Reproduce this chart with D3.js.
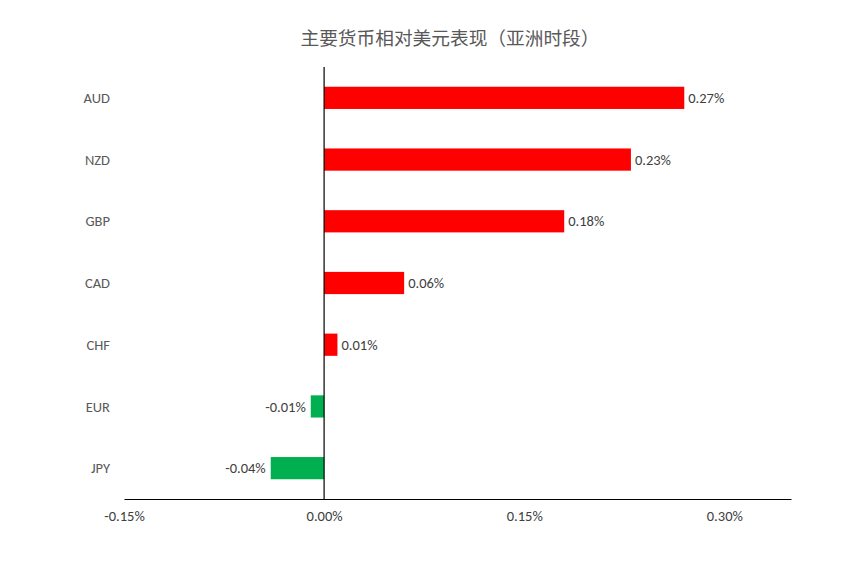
<!DOCTYPE html>
<html>
<head>
<meta charset="utf-8">
<script src="https://d3js.org/d3.v7.min.js"></script>
<style>
    body { margin: 0; background: #fff; }
    text { font-family: Calibri, Carlito, "Liberation Sans", "Noto Sans CJK SC", sans-serif; }
</style>
</head>
<body>
<svg id="chart" width="860" height="580"></svg>
<script>
    // currency performance vs USD, Asian session
    var currencies = ["AUD", "NZD", "GBP", "CAD", "CHF", "EUR", "JPY"];
    var changes = [0.27, 0.23, 0.18, 0.06, 0.01, -0.01, -0.04];
    var tickValues = [-0.15, 0, 0.15, 0.30];
    var titleText = "主要货币相对美元表现（亚洲时段）";

    var svg = d3.select("#chart");
    var plotLeft = 124, plotRight = 791, plotTop = 67, plotBottom = 499;

    var x = d3.scaleLinear().domain([-0.15, 0.35]).range([plotLeft, plotRight]);
    var y = d3.scaleBand().domain(currencies).range([plotTop, plotBottom]).paddingInner(0.64).paddingOuter(0.32);

    svg.append("text")
        .attr("x", 450).attr("y", 45)
        .attr("text-anchor", "middle")
        .style("font-family", "'Noto Sans CJK SC', sans-serif")
        .style("font-size", "18.7px")
        .style("fill", "#595959")
        .text(titleText);

    // bars
    svg.append("g").selectAll("rect").data(changes).join("rect")
        .attr("x", d => x(Math.min(0, d)))
        .attr("y", (d, i) => y(currencies[i]))
        .attr("width", d => Math.abs(x(d) - x(0)))
        .attr("height", y.bandwidth())
        .attr("fill", d => d >= 0 ? "#ff0000" : "#00b050");

    // value labels
    svg.append("g").selectAll("text").data(changes).join("text")
        .attr("x", d => d >= 0 ? x(d) + 4 : x(d) - 5)
        .attr("y", (d, i) => y(currencies[i]) + y.bandwidth() / 2)
        .attr("dy", "0.35em")
        .attr("text-anchor", d => d >= 0 ? "start" : "end")
        .style("font-size", "14.5px")
        .style("fill", "#404040")
        .text(d => d.toFixed(2) + "%");

    // category labels
    svg.append("g").selectAll("text").data(currencies).join("text")
        .attr("x", 110)
        .attr("y", d => y(d) + y.bandwidth() / 2)
        .attr("dy", "0.35em")
        .attr("text-anchor", "end")
        .style("font-size", "14.5px")
        .style("fill", "#595959")
        .text(d => d);

    // x axis
    var xAxis = svg.append("g")
        .attr("transform", "translate(0," + plotBottom + ")")
        .call(d3.axisBottom(x).tickValues(tickValues).tickSize(0).tickPadding(12)
            .tickFormat(d => d.toFixed(2) + "%"));
    xAxis.select(".domain").attr("stroke", "#000").attr("stroke-width", 1.2);
    xAxis.selectAll("text").style("font-size", "14.5px").style("fill", "#404040")
        .style("font-family", "Calibri, Carlito, 'Liberation Sans', sans-serif");

    // zero line
    svg.append("line")
        .attr("x1", x(0)).attr("x2", x(0))
        .attr("y1", plotTop).attr("y2", plotBottom)
        .attr("stroke", "#000").attr("stroke-width", 1.2);
</script>
</body>
</html>
